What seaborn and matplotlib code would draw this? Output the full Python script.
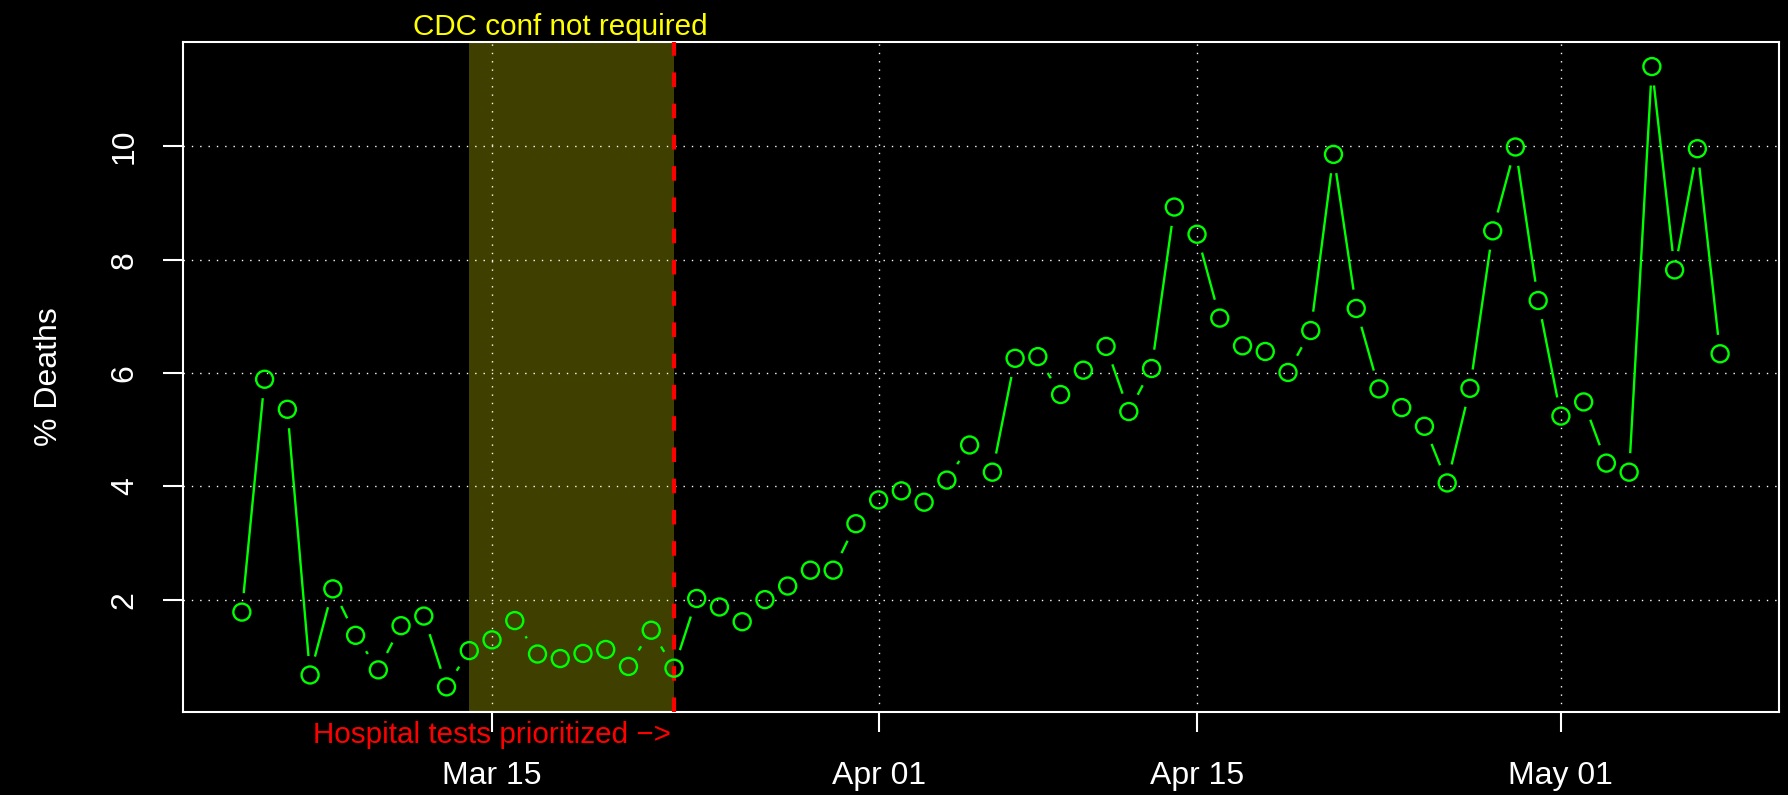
import numpy as np
import pandas as pd
import seaborn as sns
import matplotlib.pyplot as plt
import matplotlib.dates as mdates
import matplotlib.transforms as mtransforms
from matplotlib.collections import LineCollection

# Daily % deaths, Mar 4 - May 8 2020
dates = pd.date_range("2020-03-04", "2020-05-08", freq="D")
pct_deaths = [
    1.78, 5.89, 5.36, 0.67, 2.19, 1.37, 0.76, 1.54, 1.71, 0.46,   # Mar 4-13
    1.10, 1.29, 1.63, 1.04, 0.96, 1.05, 1.12, 0.82, 1.46, 0.79,   # Mar 14-23
    2.02, 1.87, 1.61, 2.00, 2.24, 2.52, 2.52, 3.34,               # Mar 24-31
    3.76, 3.92, 3.72, 4.11, 4.73, 4.25, 6.26, 6.29, 5.62, 6.05,   # Apr 1-10
    6.47, 5.32, 6.08, 8.93, 8.45, 6.97, 6.48, 6.38, 6.01, 6.75,   # Apr 11-20
    9.86, 7.14, 5.72, 5.39, 5.06, 4.06, 5.73, 8.51, 9.99, 7.28,   # Apr 21-30
    5.24, 5.49, 4.41, 4.25, 11.41, 7.82, 9.96, 6.34,              # May 1-8
]

# shaded period and the "hospital tests prioritized" date
shade_start = pd.Timestamp("2020-03-14")
shade_end = pd.Timestamp("2020-03-23")
cdc_label_date = pd.Timestamp("2020-03-18")
hosp_label_date = pd.Timestamp("2020-03-15")

tick_dates = pd.to_datetime(["2020-03-15", "2020-04-01", "2020-04-15", "2020-05-01"])
tick_labels = ["Mar 15", "Apr 01", "Apr 15", "May 01"]
y_ticks = [2, 4, 6, 8, 10]

green = "#00FF00"
fsize = 23
note_size = 21.3

sns.set_style("dark", {"axes.facecolor": "black", "figure.facecolor": "black"})
plt.rcParams['font.family'] = ['Liberation Sans', 'DejaVu Sans']

fig = plt.figure(figsize=(17.88, 7.95), dpi=100)
ax = fig.add_axes([0.1022, 0.1048, 0.8929, 0.8427])
ax.set_facecolor("black")

xs = mdates.date2num(dates)
ys = np.array(pct_deaths)

# R-like axis limits (4% padding)
xr = xs.max() - xs.min()
yr = ys.max() - ys.min()
ax.set_xlim(xs.min() - 0.04 * xr, xs.max() + 0.04 * xr)
ax.set_ylim(ys.min() - 0.04 * yr, ys.max() + 0.04 * yr)

ax.axvspan(mdates.date2num(shade_start), mdates.date2num(shade_end),
           color=(1, 1, 0, 0.25), lw=0, zorder=0.2)

ax.set_xticks(mdates.date2num(tick_dates))
ax.set_xticklabels(tick_labels)
ax.set_yticks(y_ticks)
ax.grid(True, color="white", linestyle=(0, (1, 5)), linewidth=1.0)
ax.set_axisbelow(True)

ax.axvline(mdates.date2num(shade_end), color="red", linewidth=3,
           linestyle=(0, (3.5, 4.0)), zorder=3)

sns.scatterplot(x=dates, y=pct_deaths, ax=ax, marker="o", s=150,
                edgecolor=green, linewidth=1.7, zorder=5, legend=False)
ax.collections[-1].set_facecolor("none")
ax.collections[-1].set_edgecolor(green)

# type="b" style: line segments with gaps around the points
fig.canvas.draw()
gap = 19
pts = ax.transData.transform(np.column_stack([xs, ys]))
inv = ax.transData.inverted()
segs = []
for p0, p1 in zip(pts[:-1], pts[1:]):
    d = p1 - p0
    length = np.hypot(*d)
    if length > 2 * gap:
        u = d / length
        segs.append(inv.transform(np.array([p0 + u * gap, p1 - u * gap])))
ax.add_collection(LineCollection(segs, colors=green, linewidths=1.7, zorder=4))

for sp in ax.spines.values():
    sp.set_visible(True)
    sp.set_color("white")
    sp.set_linewidth(1.5)

ax.tick_params(axis="both", colors="white", length=14.4, width=1.5,
               direction="out", labelsize=fsize, bottom=True, left=True)
ax.tick_params(axis="x", pad=21)
ax.tick_params(axis="y", pad=16.5, labelrotation=90)
for lbl in ax.get_yticklabels():
    lbl.set_va("center")

ax.set_xlabel("")
ax.set_ylabel("% Deaths", color="white", fontsize=fsize)
ax.yaxis.set_label_coords(-0.0743, 0.5)

trans = mtransforms.blended_transform_factory(ax.transData, ax.transAxes)
ax.text(mdates.date2num(cdc_label_date), 1.010, "CDC conf not required",
        transform=trans, color="yellow", ha="center", va="baseline",
        fontsize=note_size, clip_on=False)
ax.text(mdates.date2num(hosp_label_date), -0.0465, "Hospital tests prioritized \u2212>",
        transform=trans, color="red", ha="center", va="baseline",
        fontsize=note_size, clip_on=False)

plt.savefig("out.png", dpi=100, facecolor="black")
